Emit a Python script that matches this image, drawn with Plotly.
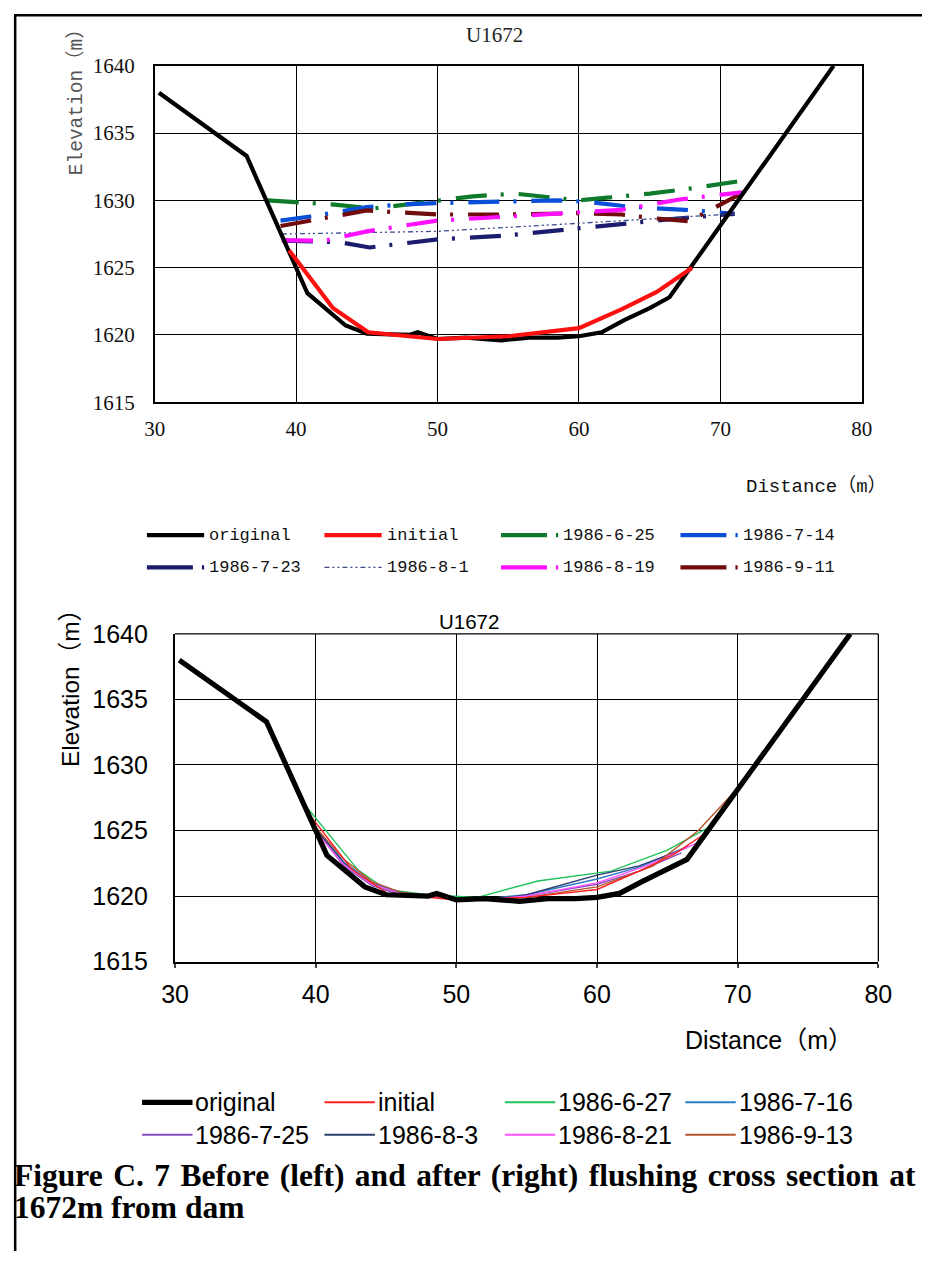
import plotly.graph_objects as go

# page is 952 x 1281; the body keeps its default 8px margin
PAGE_W, PAGE_H = 952, 1281
OFF = 8
W, H = PAGE_W - 2 * OFF, PAGE_H - 2 * OFF

# ---------------- data ----------------
# surveyed original bed profile (distance m, elevation m)
orig_x = [30.3, 36.5, 40.8, 43.5, 45.0, 47.0, 48.0, 48.6, 50.0, 52.0, 54.5, 56.5, 58.5, 60.0, 61.6, 63.2, 65.0, 66.4, 78.0]
orig_y = [1638.0, 1633.3, 1623.1, 1620.7, 1620.1, 1620.0, 1620.0, 1620.2, 1619.7, 1619.8, 1619.6, 1619.8, 1619.8, 1619.9, 1620.2, 1621.1, 1622.0, 1622.8, 1640.0]

# initial profile
init_x = [39.5, 42.6, 45.1, 50.0, 55.0, 60.0, 63.0, 65.5, 68.0]
init_y = [1626.3, 1622.0, 1620.2, 1619.7, 1619.9, 1620.5, 1621.9, 1623.2, 1625.0]

# measured profiles before flushing
b0625_x = [38.0, 40.0, 42.5, 45.5, 50.0, 52.5, 55.5, 58.0, 60.0, 62.0, 65.0, 68.0, 71.8]
b0625_y = [1630.0, 1629.9, 1629.7, 1629.4, 1630.0, 1630.3, 1630.5, 1630.2, 1630.0, 1630.2, 1630.5, 1630.9, 1631.5]
b0714_x = [38.9, 41.0, 45.0, 47.5, 50.0, 55.0, 58.5, 60.5, 63.0, 65.5, 67.5, 71.0]
b0714_y = [1628.5, 1628.8, 1629.5, 1629.7, 1629.8, 1629.9, 1630.0, 1629.9, 1629.6, 1629.4, 1629.3, 1629.0]
b0723_x = [39.0, 43.0, 45.2, 50.0, 55.0, 60.0, 65.0, 68.0, 71.0]
b0723_y = [1627.0, 1626.9, 1626.5, 1627.1, 1627.4, 1627.95, 1628.45, 1628.75, 1629.0]
b0801_x = [39.0, 50.0, 60.0, 71.0]
b0801_y = [1627.5, 1627.7, 1628.3, 1629.0]
b0819_x = [39.0, 42.0, 45.0, 50.0, 55.0, 60.0, 63.0, 67.0, 71.5]
b0819_y = [1627.05, 1627.0, 1627.7, 1628.5, 1628.8, 1629.15, 1629.3, 1630.05, 1630.6]
b0911_x = [38.9, 40.0, 45.0, 50.0, 55.0, 60.0, 63.0, 65.0, 67.8, 71.8]
b0911_y = [1628.1, 1628.3, 1629.25, 1628.95, 1628.95, 1629.05, 1628.95, 1628.7, 1628.45, 1630.7]

# measured profiles after flushing
a0627_x = [39.5, 43.0, 45.0, 48.0, 51.5, 55.8, 61.0, 65.0, 68.4]
a0627_y = [1626.6, 1622.0, 1620.5, 1620.1, 1619.9, 1621.15, 1621.9, 1623.5, 1625.5]
a0716_x = [39.8, 42.0, 44.0, 46.0, 50.0, 53.0, 55.0, 60.0, 63.0, 66.5]
a0716_y = [1625.5, 1622.6, 1621.0, 1620.3, 1619.8, 1619.9, 1620.1, 1621.3, 1622.2, 1623.8]
a0725_x = [39.8, 42.0, 44.0, 46.0, 50.0, 53.0, 55.0, 60.0, 63.0, 66.0]
a0725_y = [1625.3, 1622.3, 1620.8, 1620.1, 1619.8, 1619.7, 1620.0, 1620.9, 1621.9, 1623.3]
a0803_x = [39.8, 42.0, 44.0, 46.0, 50.0, 53.0, 55.0, 60.0, 63.0, 66.4]
a0803_y = [1625.4, 1622.5, 1620.9, 1620.2, 1619.8, 1619.8, 1620.1, 1621.6, 1622.3, 1623.7]
a0821_x = [39.8, 42.0, 44.0, 46.0, 50.0, 53.0, 55.0, 60.0, 63.5, 67.0]
a0821_y = [1625.2, 1622.4, 1620.9, 1620.2, 1619.8, 1619.8, 1620.0, 1621.0, 1622.3, 1624.0]
a0913_x = [39.7, 42.0, 44.0, 46.0, 50.0, 53.0, 55.0, 60.0, 64.0, 67.2, 69.8]
a0913_y = [1625.6, 1622.8, 1621.1, 1620.3, 1619.8, 1619.7, 1619.9, 1620.7, 1622.3, 1625.0, 1628.0]

x_ticks = [30, 40, 50, 60, 70, 80]
y_ticks = [1615, 1620, 1625, 1630, 1635, 1640]

# ---------------- styles ----------------
DASHDOT = "31px,14px,3px,15px"
top_series = [
    ("original", orig_x, orig_y, "#000000", 4.2, "solid"),
    ("initial", init_x, init_y, "#FF1010", 4.2, "solid"),
    ("1986-6-25", b0625_x, b0625_y, "#0E7A2A", 4.2, DASHDOT),
    ("1986-7-14", b0714_x, b0714_y, "#0A4FD8", 4.2, DASHDOT),
    ("1986-7-23", b0723_x, b0723_y, "#1C1C6E", 4.2, DASHDOT),
    ("1986-8-1", b0801_x, b0801_y, "#3A4A8C", 1.3, "5px,3px,2px,3px,2px,3px"),
    ("1986-8-19", b0819_x, b0819_y, "#FF10FF", 4.2, DASHDOT),
    ("1986-9-11", b0911_x, b0911_y, "#720C0C", 4.2, DASHDOT),
]
# draw order: keep the dated profiles underneath in this sequence
top_order = [2, 3, 4, 5, 7, 6, 0, 1]

bot_series = [
    ("original", orig_x, orig_y, "#000000", 5.2),
    ("initial", init_x, init_y, "#FF2020", 1.4),
    ("1986-6-27", a0627_x, a0627_y, "#22C25A", 1.4),
    ("1986-7-16", a0716_x, a0716_y, "#2E7BC8", 1.4),
    ("1986-7-25", a0725_x, a0725_y, "#8A4FC0", 1.4),
    ("1986-8-3", a0803_x, a0803_y, "#2B3E6E", 1.4),
    ("1986-8-21", a0821_x, a0821_y, "#FF55FF", 1.4),
    ("1986-9-13", a0913_x, a0913_y, "#B5552D", 1.4),
]
bot_order = [2, 3, 4, 5, 6, 7, 1, 0]

SERIF = "Liberation Serif"
MONO = "Liberation Mono, Noto Sans CJK SC"
SANS = "Liberation Sans, Arial, Noto Sans CJK SC"


def fx(p):
    # page pixel -> paper fraction
    return (p - OFF) / W


def fy(p):
    return 1 - (p - OFF) / H


fig = go.Figure()

for i in top_order:
    name, xs, ys, col, wid, dash = top_series[i]
    fig.add_trace(go.Scatter(x=xs, y=ys, mode="lines", name=name,
                             line=dict(color=col, width=wid, dash=dash),
                             xaxis="x", yaxis="y", showlegend=False))

for i in bot_order:
    name, xs, ys, col, wid = bot_series[i]
    fig.add_trace(go.Scatter(x=xs, y=ys, mode="lines", name=name,
                             line=dict(color=col, width=wid),
                             xaxis="x2", yaxis="y2", showlegend=False))

# ---------------- axes ----------------
top_tick_font = dict(family=SERIF, size=21, color="#111111")
bot_tick_font = dict(family=SANS, size=25, color="#000000")

fig.update_layout(
    width=W, height=H,
    margin=dict(l=0, r=0, t=0, b=0),
    paper_bgcolor="white", plot_bgcolor="white",
    showlegend=False,
    xaxis=dict(domain=[fx(153), fx(882)], range=[30, 80], tickvals=x_ticks,
               showgrid=True, gridcolor="#000000", gridwidth=1,
               showline=True, linecolor="#000000", linewidth=1.5, mirror=True,
               zeroline=False, ticks="", tickfont=top_tick_font,
               ticklabelstandoff=7, anchor="y"),
    yaxis=dict(domain=[fy(405), fy(61)], range=[1615, 1640], tickvals=y_ticks,
               showgrid=True, gridcolor="#000000", gridwidth=1,
               showline=True, linecolor="#000000", linewidth=1.5, mirror=True,
               zeroline=False, ticks="", tickfont=top_tick_font,
               ticklabelstandoff=14, anchor="x"),
    xaxis2=dict(domain=[fx(174), fx(899)], range=[30, 80], tickvals=x_ticks,
                showgrid=True, gridcolor="#000000", gridwidth=1.3,
                showline=True, linecolor="#000000", linewidth=2.2,
                zeroline=False, ticks="outside", ticklen=4, tickwidth=1.5,
                tickfont=bot_tick_font, ticklabelstandoff=5, anchor="y2"),
    yaxis2=dict(domain=[fy(977), fy(642)], range=[1615, 1640], tickvals=y_ticks,
                showgrid=True, gridcolor="#000000", gridwidth=1.3,
                showline=True, linecolor="#000000", linewidth=2.2,
                zeroline=False, ticks="", tickfont=bot_tick_font,
                ticklabelstandoff=20, anchor="x2"),
)

# second chart frame on the top / right edges
shapes = [
    dict(type="line", xref="x2 domain", yref="y2 domain", x0=0, x1=1, y0=1, y1=1,
         line=dict(color="#000000", width=1.3)),
    dict(type="line", xref="x2 domain", yref="y2 domain", x0=1, x1=1, y0=0, y1=1,
         line=dict(color="#000000", width=1.3)),
    # page frame (top and left rules) along the figure edge
    dict(type="line", xref="paper", yref="paper", x0=0, x1=1, y0=0.999, y1=0.999,
         line=dict(color="#000000", width=2.5)),
    dict(type="line", xref="paper", yref="paper", x0=0.0013, x1=0.0013, y0=1, y1=0,
         line=dict(color="#000000", width=2.5)),
]

annotations = []


def text(x, y, s, font, anchor="center", angle=0):
    annotations.append(dict(x=fx(x), y=fy(y), xref="paper", yref="paper", text=s,
                            showarrow=False, xanchor=anchor, yanchor="middle",
                            textangle=angle, font=font))


# top chart labels
text(503, 29, "U1672", dict(family=SERIF, size=21, color="#222222"))
text(72, 93, "Elevation（m）", dict(family=MONO, size=19.5, color="#555555"), angle=-90)
text(835, 491, "Distance（m）", dict(family=MONO, size=19, color="#111111"))

# bottom chart labels
text(477, 629, "U1672", dict(family=SANS, size=20.5, color="#000000"))
text(67, 691, "Elevation（m）", dict(family=SANS, size=24.5, color="#000000"), angle=-90)
text(786, 1057, "Distance（m）", dict(family=SANS, size=25, color="#000000"))

# legends: four columns, two rows
top_cols = [145, 328, 510, 695]
top_rows = [541, 574]
for k, (name, xs, ys, col, wid, dash) in enumerate(top_series):
    cx = top_cols[k % 4]
    ry = top_rows[k // 4]
    ldash = "46px,9px,4px,30px" if dash == DASHDOT else dash
    shapes.append(dict(type="line", xref="paper", yref="paper",
                       x0=fx(cx), x1=fx(cx + 59), y0=fy(ry), y1=fy(ry),
                       line=dict(color=col, width=wid, dash=ldash)))
    text(cx + 62, ry, name, dict(family=MONO, size=17, color="#111111"), anchor="left")

bot_cols = [140, 328, 514, 700]
bot_rows = [1121, 1154]
for k, (name, xs, ys, col, wid) in enumerate(bot_series):
    cx = bot_cols[k % 4]
    ry = bot_rows[k // 4]
    shapes.append(dict(type="line", xref="paper", yref="paper",
                       x0=fx(cx), x1=fx(cx + 52), y0=fy(ry), y1=fy(ry),
                       line=dict(color=col, width=wid + (0.6 if wid < 2 else 0))))
    text(cx + 53, ry, name, dict(family=SANS, size=25, color="#000000"), anchor="left")

# caption (first line spread to the full text width)
cap_font = dict(family=SERIF, size=31.5, color="#000000")
line1 = "Figure C. 7 Before (left) and after (right) flushing cross section at"
annotations.append(dict(x=fx(6), y=fy(1196), xref="paper", yref="paper",
                        text="<b>" + line1.replace(" ", " \u200a") + "</b>",
                        showarrow=False, xanchor="left", yanchor="middle", font=cap_font))
annotations.append(dict(x=fx(6), y=fy(1229), xref="paper", yref="paper",
                        text="<b>1672m from dam</b>",
                        showarrow=False, xanchor="left", yanchor="middle", font=cap_font))

fig.update_layout(shapes=shapes, annotations=annotations)

fig.write_html("out.html")
